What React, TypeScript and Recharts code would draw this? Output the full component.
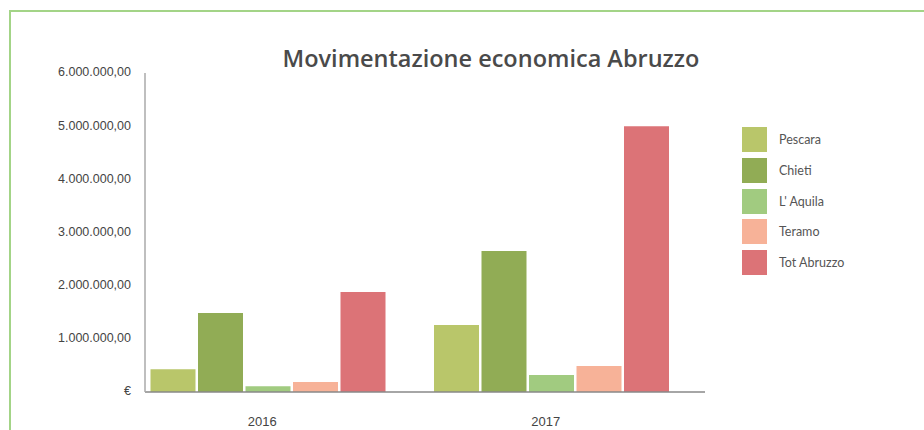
import React from 'react';
import { BarChart, Bar, XAxis, YAxis } from 'recharts';

// Years on the category axis
const years = ['2016', '2017'];

// Province series (euro)
const pescara = [430000, 1260000];
const chieti = [1485000, 2650000];
const aquila = [110000, 320000];
const teramo = [190000, 490000];
const totAbruzzo = [1880000, 5000000];

const seriesNames = ['Pescara', 'Chieti', "L' Aquila", 'Teramo', 'Tot Abruzzo'];
const seriesKeys = ['pescara', 'chieti', 'aquila', 'teramo', 'tot'];
const seriesColors = ['#b9c66a', '#91ac55', '#a1cb80', '#f7b298', '#dc7377'];

const yTicks = [0, 1000000, 2000000, 3000000, 4000000, 5000000, 6000000];

const data = years.map((year, i) => ({
  year,
  pescara: pescara[i],
  chieti: chieti[i],
  aquila: aquila[i],
  teramo: teramo[i],
  tot: totAbruzzo[i],
}));

const formatEuro = (v: number) => {
  if (v === 0) return '€';
  const intPart = Math.round(v)
    .toString()
    .replace(/\B(?=(\d{3})+(?!\d))/g, '.');
  return `${intPart},00`;
};

const LegendBox = () => (
  <div style={{ position: 'absolute', left: 742, top: 127, display: 'flex', flexDirection: 'column' }}>
    {seriesNames.map((name, i) => (
      <div
        key={name}
        style={{ display: 'flex', alignItems: 'center', height: 25, marginBottom: 5.8 }}
      >
        <div style={{ width: 25, height: 25, background: seriesColors[i] }} />
        <span
          style={{
            marginLeft: 12,
            fontFamily: 'Lato, sans-serif',
            fontSize: 12.5,
            color: '#555',
          }}
        >
          {name}
        </span>
      </div>
    ))}
  </div>
);

export default function App() {
  return (
    <div style={{ position: 'absolute', left: 0, top: 0, width: 924, height: 430, background: '#fff', overflow: 'hidden' }}>
      <div
        style={{
          position: 'absolute',
          left: 9,
          top: 10,
          width: 1000,
          height: 500,
          borderTop: '2px solid #a3d487',
          borderLeft: '2px solid #a3d487',
        }}
      />
      <svg width={924} height={430} style={{ position: 'absolute', left: 0, top: 0 }}>
        <text
          x={491}
          y={67}
          textAnchor="middle"
          fontFamily="'Open Sans', sans-serif"
          fontWeight={600}
          fontSize={23.5}
          fill="#4a4a4a"
        >
          Movimentazione economica Abruzzo
        </text>
      </svg>
      <div style={{ position: 'absolute', left: 0, top: 0 }}>
        <BarChart
          width={924}
          height={430}
          data={data}
          margin={{ top: 73, right: 219, bottom: 8, left: 0 }}
          barSize={45}
          barGap={2.5}
        >
          <XAxis
            dataKey="year"
            height={30}
            padding={{ left: -18.5, right: 11.5 }}
            axisLine={{ stroke: '#888', strokeWidth: 1.5 }}
            tickLine={false}
            tickMargin={19}
            tick={{ fill: '#444', fontSize: 13, fontFamily: 'Liberation Sans, Arial, sans-serif', dx: -6 }}
          />
          <YAxis
            width={145}
            domain={[0, 6000000]}
            ticks={yTicks}
            interval={0}
            tickFormatter={formatEuro}
            axisLine={{ stroke: '#aaa', strokeWidth: 1.5 }}
            tickLine={false}
            tickMargin={8}
            tick={{ fill: '#444', fontSize: 12.5, fontFamily: 'Liberation Sans, Arial, sans-serif', dy: -1 }}
          />
          {seriesKeys.map((k, i) => (
            <Bar
              key={k}
              dataKey={k}
              name={seriesNames[i]}
              fill={seriesColors[i]}
              barSize={45}
              isAnimationActive={false}
            />
          ))}
        </BarChart>
      </div>
      <LegendBox />
    </div>
  );
}
